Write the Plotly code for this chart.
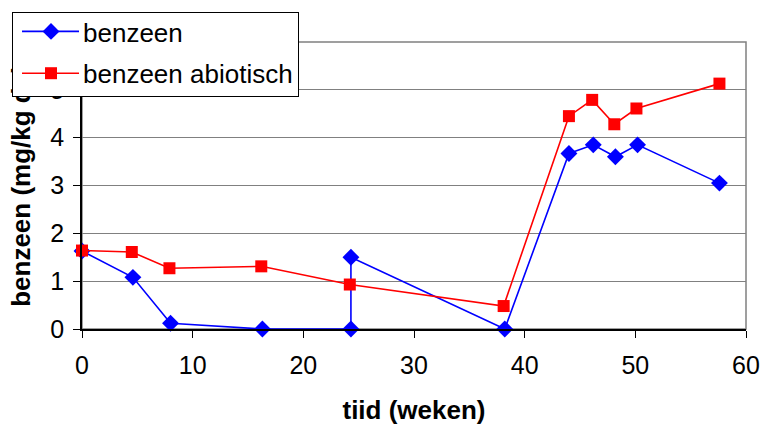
import plotly.graph_objects as go

weeks_blue = [0, 4.6, 8.0, 16.3, 24.3, 24.3, 38.2, 44.0, 46.2, 48.2, 50.2, 57.6]
benzeen = [1.63, 1.08, 0.12, 0.0, 0.0, 1.50, 0.0, 3.67, 3.85, 3.60, 3.85, 3.05]

weeks_red = [0, 4.5, 7.9, 16.2, 24.2, 38.1, 44.0, 46.1, 48.1, 50.1, 57.6]
benzeen_abiotisch = [1.64, 1.61, 1.27, 1.31, 0.93, 0.48, 4.45, 4.79, 4.28, 4.61, 5.13]

x_ticks = [0, 10, 20, 30, 40, 50, 60]
y_ticks = [0, 1, 2, 3, 4, 5, 6]
y_ticklabels = ["0", "1", "2", "3", "4", "5", ""]

fig = go.Figure()
fig.add_trace(go.Scatter(
    x=weeks_blue, y=benzeen, mode="lines+markers", name="benzeen",
    line=dict(color="#0000FF", width=1.6),
    marker=dict(symbol="diamond", size=13, color="#0000FF"),
    legendgroup="a", cliponaxis=False))
fig.add_trace(go.Scatter(
    x=weeks_red, y=benzeen_abiotisch, mode="lines+markers", name="benzeen abiotisch",
    line=dict(color="#FF0000", width=1.6),
    marker=dict(symbol="square", size=12, color="#FF0000"),
    legendgroup="b", cliponaxis=False))

font = "Liberation Sans, Arial, sans-serif"
fig.update_layout(
    width=761, height=425,
    margin=dict(l=82, r=15, t=42, b=96),
    paper_bgcolor="white", plot_bgcolor="white",
    font=dict(family=font, color="black", size=25),
    showlegend=True,
    legend=dict(x=-0.1054, y=1.1045, xanchor="left", yanchor="top",
                bgcolor="white", bordercolor="black", borderwidth=1,
                font=dict(size=26, family=font), traceorder="grouped",
                tracegroupgap=0, itemwidth=60),
    xaxis=dict(range=[0, 60], tickvals=x_ticks, ticks="outside", ticklen=7,
               tickcolor="black", showline=True, linecolor="black", linewidth=1.5,
               showgrid=False, zeroline=False, tickfont=dict(size=25), automargin=False,
               ticklabelstandoff=6,
               title=dict(text="<b>tiid (weken)</b>", font=dict(size=26), standoff=26)),
    yaxis=dict(range=[0, 6], tickvals=y_ticks, ticktext=y_ticklabels, ticks="outside",
               ticklen=7, tickcolor="black", showline=True, linecolor="black",
               linewidth=1.5, showgrid=True, gridcolor="#808080", gridwidth=1,
               zeroline=False, tickfont=dict(size=25), automargin=False,
               ticklabelstandoff=4,
               title=dict(text="<b>benzeen (mg/kg ds)</b>", font=dict(size=26), standoff=12)),
)
fig.add_shape(type="rect", xref="paper", yref="paper", x0=0, x1=1, y0=0, y1=1,
              line=dict(color="#808080", width=1.5), layer="below")

# Bring the legend above the axis titles (as in the reference), lengthen its sample
# lines and tighten its vertical padding
post_js = """
var gd = document.getElementsByClassName('plotly-graph-div')[0];
function fixLegend(){
  var leg = gd.querySelector('.infolayer .legend');
  if (!leg || leg.getAttribute('data-fixed')) return;
  leg.setAttribute('data-fixed', '1');
  leg.parentNode.appendChild(leg);
  leg.querySelectorAll('.legendlines path').forEach(function(p){
    p.setAttribute('d', 'M9,0h57');
  });
  leg.querySelectorAll('.legendpoints path').forEach(function(p){
    p.setAttribute('transform', 'translate(38,0)');
  });
  var groups = leg.querySelector('.groups');
  if (groups) {
    var t = groups.getAttribute('transform') || '';
    groups.setAttribute('transform', t + ' translate(0,-5)');
  }
  var bg = leg.querySelector('rect.bg');
  if (bg) {
    var h = parseFloat(bg.getAttribute('height'));
    bg.setAttribute('height', h - 1);
  }
}
fixLegend();
gd.on('plotly_afterplot', fixLegend);
"""

fig.write_html("out.html", post_script=post_js)
